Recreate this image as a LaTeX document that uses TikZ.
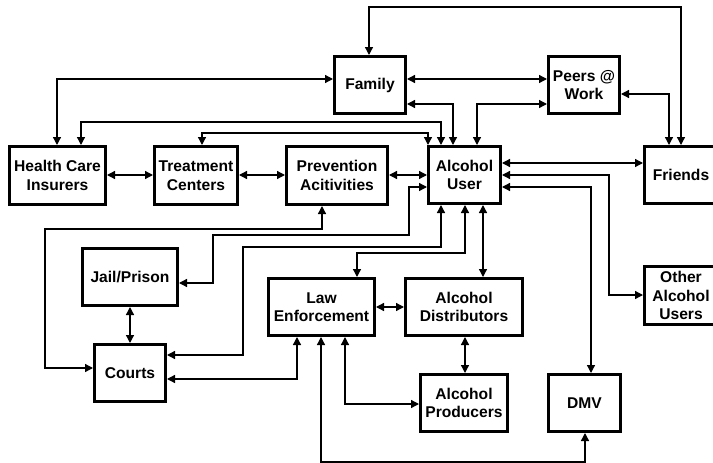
\documentclass[tikz,border=0pt]{standalone}
\usepackage{fontspec}
\setmainfont{Liberation Sans}
\usetikzlibrary{arrows.meta}
\begin{document}
\begin{tikzpicture}[x=1pt,y=-1pt,
  box/.style={draw,line width=3pt,align=center,inner sep=0pt,
    font=\fontsize{15.6}{18.5}\selectfont\bfseries,minimum height=57pt},
  conn/.style={line width=1.3pt,
    {Triangle[length=8pt,width=8pt]}-{Triangle[length=8pt,width=8pt]}}]
\useasboundingbox (0,0) rectangle (713,463);
% boxes
\node[box,minimum width=96pt,minimum height=58pt] (hci) at (57.5,175.5) {Health Care\\Insurers};
\node[box,minimum width=83pt,minimum height=58pt] (treat) at (196,175.5) {Treatment\\Centers};
\node[box,minimum width=101pt,minimum height=58pt] (prev) at (337,175.5) {Prevention\\Acitivities};
\node[box,minimum width=72pt] (alc) at (464.5,175) {Alcohol\\User};
\node[box,minimum width=73pt] (friends) at (681,175) {Friends};
\node[box,minimum width=71pt] (family) at (370,85) {Family};
\node[box,minimum width=71pt] (peers) at (584,85) {Peers @\\Work};
\node[box,minimum width=95pt] (jail) at (130,277) {Jail/Prison};
\node[box,minimum width=71pt] (courts) at (130,373) {Courts};
\node[box,minimum width=106pt] (law) at (321.5,307) {Law\\Enforcement};
\node[box,minimum width=117pt] (dist) at (464,307) {Alcohol\\Distributors};
\node[box,minimum width=87pt] (prod) at (464,403) {Alcohol\\Producers};
\node[box,minimum width=72pt] (dmv) at (584.5,403) {DMV};
\node[box,minimum width=73pt,minimum height=58pt] (other) at (681,295.5) {Other\\Alcohol\\Users};
% routing points
\coordinate (a1) at (369,7);   \coordinate (a2) at (681,7);
\coordinate (b1) at (0,79);
\coordinate (c1) at (453,104); \coordinate (c2) at (477,104);
\coordinate (c3) at (669,94);  \coordinate (c4) at (57,79);
\coordinate (d1) at (81,122);  \coordinate (d2) at (441,122);
\coordinate (d3) at (202,133); \coordinate (d4) at (428,133);
\coordinate (e) at (0,175);    \coordinate (f) at (0,163);
\coordinate (g1) at (609,175); \coordinate (g2) at (609,295);
\coordinate (h1) at (591,187);
\coordinate (i1) at (483,0);
\coordinate (j1) at (409,187); \coordinate (j2) at (409,235);
\coordinate (j3) at (213,235); \coordinate (j4) at (213,283);
\coordinate (k1) at (322,229); \coordinate (k2) at (45,229);
\coordinate (k3) at (45,368);
\coordinate (l1) at (441,247); \coordinate (l2) at (243,247);
\coordinate (l3) at (243,355);
\coordinate (m1) at (465,253); \coordinate (m2) at (357,253);
\coordinate (n) at (0,307);    \coordinate (o) at (465,0);
\coordinate (p1) at (297,379);
\coordinate (q1) at (321,462); \coordinate (q2) at (585,462);
\coordinate (r1) at (345,404);
% connectors
\draw[conn] (family.north -| a1) -- (a1) -- (a2) -- (friends.north -| a2);
\draw[conn] (family.east |- b1) -- (peers.west |- b1);
\draw[conn] (family.east |- c1) -- (c1) -- (alc.north -| c1);
\draw[conn] (peers.west |- c2) -- (c2) -- (alc.north -| c2);
\draw[conn] (peers.east |- c3) -- (c3) -- (friends.north -| c3);
\draw[conn] (hci.north -| c4) -- (c4) -- (family.west |- c4);
\draw[conn] (hci.north -| d1) -- (d1) -- (d2) -- (alc.north -| d2);
\draw[conn] (treat.north -| d3) -- (d3) -- (d4) -- (alc.north -| d4);
\draw[conn] (hci.east |- e) -- (treat.west |- e);
\draw[conn] (treat.east |- e) -- (prev.west |- e);
\draw[conn] (prev.east |- e) -- (alc.west |- e);
\draw[conn] (alc.east |- f) -- (friends.west |- f);
\draw[conn] (alc.east |- g1) -- (g1) -- (g2) -- (other.west |- g2);
\draw[conn] (alc.east |- h1) -- (h1) -- (dmv.north -| h1);
\draw[conn] (alc.south -| i1) -- (dist.north -| i1);
\draw[conn] (alc.west |- j1) -- (j1) -- (j2) -- (j3) -- (j4) -- (jail.east |- j4);
\draw[conn] (prev.south -| k1) -- (k1) -- (k2) -- (k3) -- (courts.west |- k3);
\draw[conn] (alc.south -| l1) -- (l1) -- (l2) -- (l3) -- (courts.east |- l3);
\draw[conn] (alc.south -| m1) -- (m1) -- (m2) -- (law.north -| m2);
\draw[conn] (law.east |- n) -- (dist.west |- n);
\draw[conn] (dist.south -| o) -- (prod.north -| o);
\draw[conn] (law.south -| p1) -- (p1) -- (courts.east |- p1);
\draw[conn] (law.south -| q1) -- (q1) -- (q2) -- (dmv.south -| q2);
\draw[conn] (law.south -| r1) -- (r1) -- (prod.west |- r1);
\draw[conn] (jail.south) -- (courts.north);
\end{tikzpicture}
\end{document}
